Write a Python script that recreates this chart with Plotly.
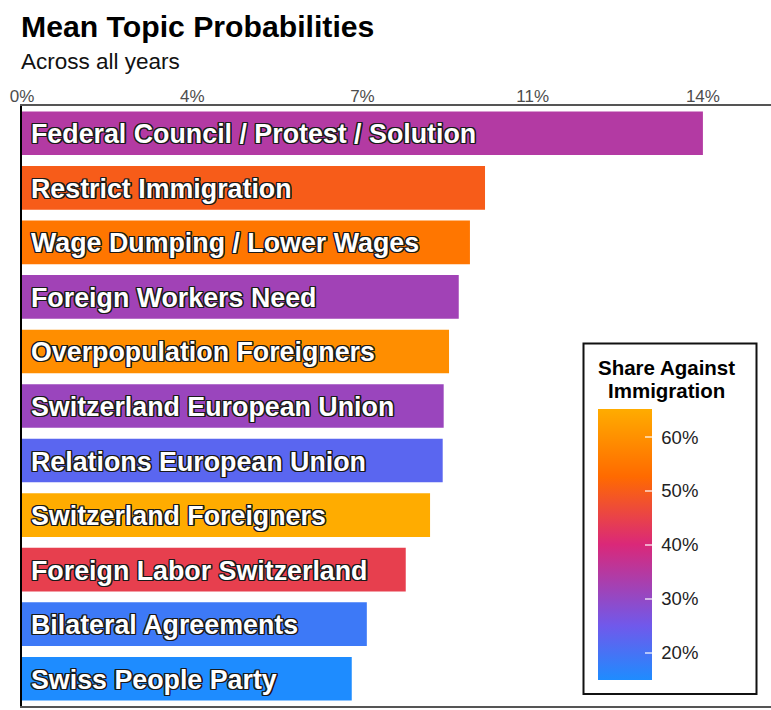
import plotly.graph_objects as go

# Topics, ordered from highest to lowest mean probability
topics = [
    "Federal Council / Protest / Solution",
    "Restrict Immigration",
    "Wage Dumping / Lower Wages",
    "Foreign Workers Need",
    "Overpopulation Foreigners",
    "Switzerland European Union",
    "Relations European Union",
    "Switzerland Foreigners",
    "Foreign Labor Switzerland",
    "Bilateral Agreements",
    "Swiss People Party",
]
mean_prob = [0.1400, 0.0952, 0.0921, 0.0898, 0.0878, 0.0867, 0.0865, 0.0839, 0.0789, 0.0709, 0.0678]
share_against = [0.345, 0.500, 0.550, 0.320, 0.595, 0.310, 0.223, 0.652, 0.445, 0.187, 0.149]

x_ticks = [0, 0.035, 0.07, 0.105, 0.14]
x_tick_labels = ["0%", "4%", "7%", "11%", "14%"]
cbar_ticks = [0.2, 0.3, 0.4, 0.5, 0.6]
cbar_tick_labels = ["20%", "30%", "40%", "50%", "60%"]

FONT = "Liberation Sans, Arial, Helvetica, sans-serif"
colorscale = [
    [0.0, "#1E8CFF"],
    [0.2, "#7059EB"],
    [0.5, "#DA2879"],
    [0.75, "#FF6A00"],
    [1.0, "#FFAC00"],
]

W, H = 771, 710
ML, MR, MT, MB = 22, 0, 106, 4
PW, PH = W - ML - MR, H - MT - MB


def px_x(p):
    return (p - ML) / PW


def px_y(p):
    return (H - MB - p) / PH


NBSP = "\u00a0"

fig = go.Figure()
fig.add_trace(go.Bar(
    x=mean_prob,
    y=topics,
    orientation="h",
    marker=dict(
        color=share_against,
        colorscale=colorscale,
        cmin=min(share_against),
        cmax=max(share_against),
        line=dict(width=0),
        colorbar=dict(
            x=px_x(598), xanchor="left", xpad=0,
            y=px_y(544.5), yanchor="middle", ypad=0,
            len=271, lenmode="pixels",
            thickness=54, thicknessmode="pixels",
            outlinewidth=0, borderwidth=0,
            bgcolor="rgba(0,0,0,0)",
            tickvals=cbar_ticks,
            ticktext=[NBSP + s for s in cbar_tick_labels],
            ticks="inside", ticklen=7, tickwidth=1.5,
            tickcolor="rgba(255,255,255,0.6)",
            tickfont=dict(family=FONT, size=18.5, color="#222222"),
        ),
    ),
    hoverinfo="x+y",
    showlegend=False,
))

annotations = []
outline = ("-1.3px -1.3px 0 #1a1a1a, 1.3px -1.3px 0 #1a1a1a, -1.3px 1.3px 0 #1a1a1a, "
           "1.3px 1.3px 0 #1a1a1a, 0 1.3px 0 #1a1a1a, 0 -1.3px 0 #1a1a1a, "
           "1.3px 0 0 #1a1a1a, -1.3px 0 0 #1a1a1a")
for t in topics:
    annotations.append(dict(
        x=0, y=t, xref="x", yref="y", text=t, showarrow=False,
        xanchor="left", yanchor="middle", xshift=7, yshift=-1,
        font=dict(family=FONT, size=26.8, color="white", weight="bold", shadow=outline),
    ))

# Title and subtitle
annotations.append(dict(
    x=px_x(19), y=px_y(26), xref="paper", yref="paper", text="<b>Mean Topic Probabilities</b>",
    showarrow=False, xanchor="left", yanchor="middle",
    font=dict(family=FONT, size=30.2, color="black"),
))
annotations.append(dict(
    x=px_x(19), y=px_y(61), xref="paper", yref="paper", text="Across all years",
    showarrow=False, xanchor="left", yanchor="middle",
    font=dict(family=FONT, size=22.5, color="#111111"),
))

# Colour bar heading
for txt, yc in [("Share Against", 367), ("Immigration", 390)]:
    annotations.append(dict(
        x=px_x(666), y=px_y(yc), xref="paper", yref="paper", text="<b>" + txt + "</b>",
        showarrow=False, xanchor="center", yanchor="middle",
        font=dict(family=FONT, size=20.5, color="black"),
    ))

shapes = [dict(
    type="rect", xref="paper", yref="paper",
    x0=px_x(583.5), x1=px_x(756.5), y0=px_y(694), y1=px_y(343.5),
    line=dict(color="#111111", width=2), fillcolor="white", layer="above",
)]

fig.update_layout(
    width=W, height=H, autosize=False,
    margin=dict(l=ML, r=MR, t=MT, b=MB, pad=0),
    paper_bgcolor="white", plot_bgcolor="white",
    font=dict(family=FONT),
    bargap=0.2,
    annotations=annotations,
    shapes=shapes,
    xaxis=dict(
        side="top", range=[0, 0.154],
        tickvals=x_ticks, ticktext=x_tick_labels,
        tickfont=dict(family=FONT, size=17, color="#4D4D4D"),
        ticklabelstandoff=-5,
        showgrid=False, zeroline=False,
        showline=True, linecolor="#555555", linewidth=2, mirror=True,
        ticks="",
    ),
    yaxis=dict(
        categoryorder="array", categoryarray=topics, autorange="reversed",
        showticklabels=False, showgrid=False, zeroline=False,
        showline=True, linecolor="black", linewidth=2, ticks="",
    ),
)

fig.write_html("out.html")
